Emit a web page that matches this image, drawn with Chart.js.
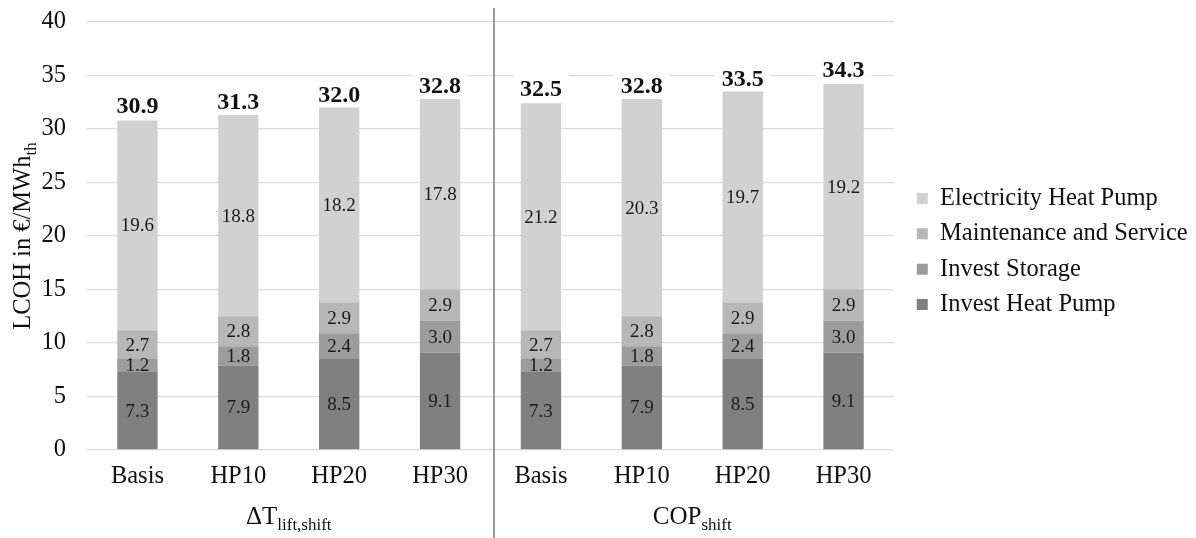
<!DOCTYPE html>
<html>
<head>
<meta charset="utf-8">
<title>LCOH by scenario</title>
<style>
  html, body { margin: 0; padding: 0; background: #ffffff; }
  #wrap { width: 1196px; height: 538px; position: relative; }
</style>
<script src="https://cdn.jsdelivr.net/npm/chart.js@4.4.1/dist/chart.umd.min.js"></script>
</head>
<body>
<div id="wrap"><canvas id="lcoh" width="1196" height="538"></canvas></div>
<script>
// Scenario labels along the x axis (two groups of four)
const categories = ['Basis', 'HP10', 'HP20', 'HP30', 'Basis', 'HP10', 'HP20', 'HP30'];

// Cost components in €/MWh_th
const investHeatPump = [7.3, 7.9, 8.5, 9.1, 7.3, 7.9, 8.5, 9.1];
const investStorage  = [1.2, 1.8, 2.4, 3.0, 1.2, 1.8, 2.4, 3.0];
const maintenance    = [2.7, 2.8, 2.9, 2.9, 2.7, 2.8, 2.9, 2.9];
const electricity    = [19.6, 18.8, 18.2, 17.8, 21.2, 20.3, 19.7, 19.2];

// Levelized cost totals printed above each stack
const totals = [30.9, 31.3, 32.0, 32.8, 32.5, 32.8, 33.5, 34.3];

// Group captions under the scenario labels (main text + subscript)
const groupMain = ['ΔT', 'COP'];
const groupSub  = ['lift,shift', 'shift'];
const groupFrom = [0, 4];
const groupTo   = [3, 7];

// Value axis
const yMin = 0, yMax = 40, yStep = 5;
const yTitleMain = 'LCOH in €/MWh';
const yTitleSub = 'th';

const seriesNames  = ['Invest Heat Pump', 'Invest Storage', 'Maintenance and Service', 'Electricity Heat Pump'];
const seriesValues = [investHeatPump, investStorage, maintenance, electricity];
const seriesColors = ['#808080', '#9c9c9c', '#b7b7b7', '#d1d1d1'];

const SERIF = '"Liberation Serif", serif';
Chart.defaults.font.family = SERIF;
Chart.defaults.color = '#111111';

// Draws "main" with a lowered, smaller "sub" centred on (cx, cy)
function drawSubscripted(ctx, main, sub, cx, cy, mainSize, subSize, subDrop) {
  ctx.font = mainSize + 'px ' + SERIF;
  const wMain = ctx.measureText(main).width;
  ctx.font = subSize + 'px ' + SERIF;
  const wSub = ctx.measureText(sub).width;
  const start = cx - (wMain + wSub) / 2;
  ctx.textAlign = 'left';
  ctx.textBaseline = 'alphabetic';
  ctx.font = mainSize + 'px ' + SERIF;
  const base = cy + mainSize * 0.33;
  ctx.fillText(main, start, base);
  ctx.font = subSize + 'px ' + SERIF;
  ctx.fillText(sub, start + wMain, base + subDrop);
}

const decorations = {
  id: 'decorations',
  afterLayout(chart) {
    // place the legend to the right of the plot
    const lg = chart.legend;
    if (lg) {
      lg.left = 906; lg.right = 1196;
      lg.top = 175.5; lg.bottom = 538;
      lg.width = lg.right - lg.left;
      lg.height = lg.bottom - lg.top;
    }
  },
  afterDatasetsDraw(chart) {
    const ctx = chart.ctx;
    const x = chart.scales.x, y = chart.scales.y;
    ctx.save();
    // values inside each segment
    ctx.fillStyle = '#1a1a1a';
    ctx.font = '19px ' + SERIF;
    ctx.textAlign = 'center';
    ctx.textBaseline = 'middle';
    chart.data.datasets.forEach((ds, di) => {
      const meta = chart.getDatasetMeta(di);
      meta.data.forEach((bar, i) => {
        const v = ds.data[i];
        ctx.fillText(v.toFixed(1), bar.x, (bar.y + bar.base) / 2 + 1);
      });
    });
    // totals above the stacks, on a white label box
    ctx.font = 'bold 24px ' + SERIF;
    totals.forEach((t, i) => {
      const cx = x.getPixelForValue(i);
      const top = y.getPixelForValue(t);
      const txt = t.toFixed(1);
      const w = ctx.measureText(txt).width + 14;
      ctx.fillStyle = '#ffffff';
      ctx.fillRect(cx - w / 2, top - 28, w, 26);
      ctx.fillStyle = '#111111';
      ctx.textBaseline = 'alphabetic';
      ctx.fillText(txt, cx, top - 6);
    });
    ctx.restore();
  },
  afterDraw(chart) {
    const ctx = chart.ctx;
    const x = chart.scales.x;
    const area = chart.chartArea;
    ctx.save();
    // separator between the two scenario groups
    const sepX = (x.getPixelForValue(3) + x.getPixelForValue(4)) / 2 + 3.5;
    ctx.strokeStyle = '#7a7a7a';
    ctx.lineWidth = 1.5;
    ctx.beginPath();
    ctx.moveTo(sepX, 8);
    ctx.lineTo(sepX, chart.height);
    ctx.stroke();
    // group captions
    ctx.fillStyle = '#111111';
    for (let g = 0; g < groupMain.length; g++) {
      const cx = (x.getPixelForValue(groupFrom[g]) + x.getPixelForValue(groupTo[g])) / 2;
      drawSubscripted(ctx, groupMain[g], groupSub[g], cx, 516, 25, 17, 6);
    }
    // rotated value-axis title
    ctx.translate(22, (area.top + area.bottom) / 2);
    ctx.rotate(-Math.PI / 2);
    drawSubscripted(ctx, yTitleMain, yTitleSub, 0, 0, 24.5, 17, 6);
    ctx.restore();
  }
};

new Chart(document.getElementById('lcoh'), {
  type: 'bar',
  data: {
    labels: categories,
    datasets: seriesNames.map((name, k) => ({
      label: name,
      data: seriesValues[k],
      backgroundColor: seriesColors[k],
      borderWidth: 0,
      categoryPercentage: 1.0,
      barPercentage: 0.4
    }))
  },
  options: {
    responsive: false,
    animation: false,
    devicePixelRatio: 1,
    layout: { padding: { left: 0, right: 302, top: 22, bottom: 0 } },
    plugins: {
      legend: {
        display: true,
        position: 'chartArea',
        align: 'start',
        reverse: true,
        labels: {
          boxWidth: 11,
          boxHeight: 11,
          padding: 10.8,
          color: '#111111',
          font: { size: 24.5, family: SERIF }
        }
      },
      tooltip: { enabled: false },
      title: { display: false }
    },
    scales: {
      x: {
        stacked: true,
        grid: { display: false, drawTicks: false },
        border: { display: false },
        ticks: { padding: 12, color: '#111111', font: { size: 24.5 }, maxRotation: 0, autoSkip: false },
        afterFit(s) { s.height = 88; }
      },
      y: {
        stacked: true,
        min: yMin,
        max: yMax,
        grid: { color: '#dcdcdc', lineWidth: 1.3, drawTicks: false },
        border: { display: false },
        ticks: { stepSize: yStep, padding: 21, color: '#111111', font: { size: 24.5 } },
        afterFit(s) {
          s.width = 87;
          s.paddingTop = 0;
          s.paddingBottom = 0;
        }
      }
    }
  },
  plugins: [decorations]
});
</script>
</body>
</html>
